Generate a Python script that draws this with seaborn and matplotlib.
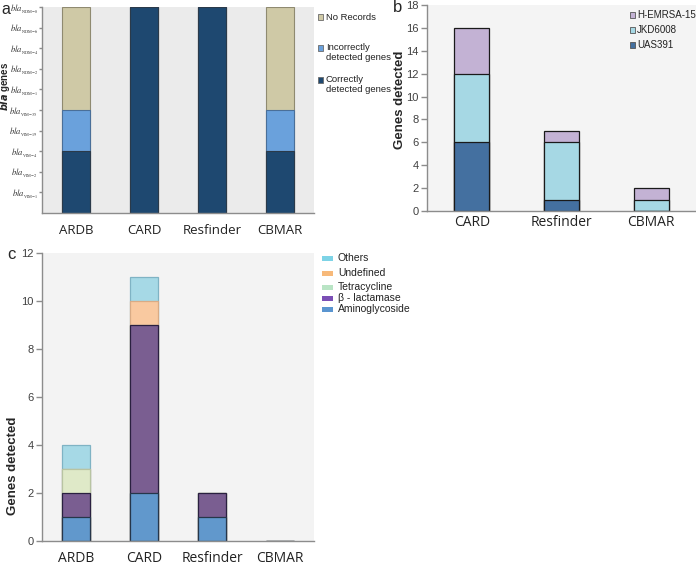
import matplotlib
matplotlib.use("Agg")
import matplotlib.pyplot as plt
import matplotlib.patches as mpatches
import seaborn as sns
import pandas as pd
import numpy as np

# ---------------- data ----------------
# Panel a
a_tools = ["ARDB", "CARD", "Resfinder", "CBMAR"]
a_correct = [3, 10, 10, 3]
a_incorrect = [2, 0, 0, 2]
a_norecords = [5, 0, 0, 5]
a_genes = ["VIM-1", "VIM-2", "VIM-4", "VIM-19", "VIM-35",
           "NDM-1", "NDM-2", "NDM-4", "NDM-6", "NDM-8"]
a_legend = ["No Records", "Incorrectly\ndetected genes", "Correctly\ndetected genes"]

# Panel b
b_tools = ["CARD", "Resfinder", "CBMAR"]
b_uas391 = [6, 1, 0]
b_jkd6008 = [6, 5, 1]
b_hemrsa = [4, 1, 1]
b_legend = ["H-EMRSA-15", "JKD6008", "UAS391"]

# Panel c
c_tools = ["ARDB", "CARD", "Resfinder", "CBMAR"]
c_amino = [1, 2, 1, 0]
c_blact = [1, 7, 1, 0]
c_tetra = [1, 0, 0, 0]
c_undef = [0, 1, 0, 0]
c_others = [1, 1, 0, 0]
c_legend = ["Others", "Undefined", "Tetracycline", "\u03b2 - lactamase", "Aminoglycoside"]

sns.set_style("white")
plt.rcParams["font.family"] = ["Liberation Sans", "DejaVu Sans"]

fig = plt.figure(figsize=(6.96, 5.65), dpi=100)

W, H = 696.0, 565.0
def axrect(x0, x1, ytop, ybot):
    return [x0 / W, 1 - ybot / H, (x1 - x0) / W, (ybot - ytop) / H]

ax_a = fig.add_axes(axrect(42, 314, 7, 213))
ax_b = fig.add_axes(axrect(427, 696, 5, 211))
ax_c = fig.add_axes(axrect(42, 314, 253, 541))

spine_col = "#8c8c8c"
tick_col = "#404040"


def stacked(ax, cats, layers, colors, edges, lw, width):
    """layers bottom->top; draw cumulative sums back to front."""
    cum = np.cumsum(np.array(layers, dtype=float), axis=0)
    for i in range(len(layers) - 1, -1, -1):
        df = pd.DataFrame({"tool": cats, "val": cum[i]})
        sns.barplot(data=df, x="tool", y="val", order=cats, color=colors[i],
                    edgecolor=edges[i], linewidth=lw, width=width,
                    errorbar=None, saturation=1, ax=ax)


def style_axis(ax, n, facecolor, xpad, xsize):
    ax.set_facecolor(facecolor)
    ax.set_xlim(-0.5, n - 0.5)
    for s in ["top", "right"]:
        ax.spines[s].set_visible(False)
    for s in ["left", "bottom"]:
        ax.spines[s].set_color(spine_col)
        ax.spines[s].set_linewidth(1.0)
    ax.set_xlabel("")
    ax.set_xticks(np.arange(n))
    ax.set_xticks(np.arange(n + 1) - 0.5, minor=True)
    ax.tick_params(axis="x", which="major", length=0, pad=xpad,
                   labelsize=xsize, labelcolor="#222222")
    ax.tick_params(axis="x", which="minor", length=4, direction="out",
                   color=spine_col, width=1)
    for lab in ax.get_xticklabels():
        lab.set_family(["Open Sans", "DejaVu Sans"])
    ax.tick_params(axis="y", length=4, direction="out", color=spine_col,
                   width=1, labelsize=8, labelcolor=tick_col, left=True, pad=2)
    ax.grid(False)


def manual_legend(entries, px, py_list, size, fontsize, text_dx, edge):
    """entries: list of (color, label); px, py in pixel coords from top-left."""
    pw, ph = size
    for (col, lab), py in zip(entries, py_list):
        fig.add_artist(mpatches.Rectangle(
            ((px) / W, 1 - (py + ph / 2) / H), pw / W, ph / H,
            transform=fig.transFigure, facecolor=col,
            edgecolor=edge if edge else "none", lw=0.6))
        fig.text((px + pw + text_dx) / W, 1 - py / H, lab, fontsize=fontsize,
                 va="center", ha="left", color="#222222")


# ---------------- panel a ----------------
a_cols = ["#1e4870", "#6aa1dc", "#cfc9a6"]
stacked(ax_a, a_tools, [a_correct, a_incorrect, a_norecords], a_cols,
        ["#2b3a4a", "#4a6f99", "#8f8a70"], 0.8, 0.4)
style_axis(ax_a, len(a_tools), "#ebebeb", 8, 9.5)
ax_a.set_ylim(0, 10)
ax_a.set_yticks(np.arange(1, 11))
ax_a.set_yticklabels([r"$bla_{{}_{\mathrm{%s}\!-\!%s}}$" % tuple(g.split("-"))
                      for g in a_genes])
for lab in ax_a.get_yticklabels():
    lab.set_math_fontfamily("stix")
    lab.set_fontsize(6.2)
    lab.set_color("#333333")
ax_a.tick_params(axis="y", length=2, pad=1)
ax_a.set_ylabel(r"$\mathbfit{bla}$ genes", fontsize=7, fontweight="bold",
                math_fontfamily="dejavusans")
ax_a.yaxis.set_label_coords((12.5 - 42) / 272, 1 - (86 - 7) / 206)

# legend a: first line of each label aligned with its patch
pa = 318
manual_legend([(a_cols[2], "No Records")], pa, [17], (5, 5), 6.8, 3, "#6b6b6b")
for col, py, lab in [(a_cols[1], 48, a_legend[1]), (a_cols[0], 80, a_legend[2])]:
    fig.add_artist(mpatches.Rectangle((pa / W, 1 - (py + 2.5) / H), 5 / W, 5 / H,
                                      transform=fig.transFigure, facecolor=col,
                                      edgecolor="#6b6b6b", lw=0.6))
    fig.text((pa + 8) / W, 1 - (py - 5) / H, lab, fontsize=6.8, va="top",
             ha="left", color="#222222", linespacing=1.1)

# ---------------- panel b ----------------
b_cols = ["#4470a0", "#a6d8e4", "#c3b2d4"]
stacked(ax_b, b_tools, [b_uas391, b_jkd6008, b_hemrsa], b_cols,
        ["#1a1a1a", "#1a1a1a", "#1a1a1a"], 0.9, 0.39)
style_axis(ax_b, len(b_tools), "#f4f4f4", 3, 10)
ax_b.set_ylim(0, 18)
ax_b.set_yticks(np.arange(0, 19, 2))
ax_b.set_ylabel("Genes detected", fontsize=9.5, fontweight="bold")
ax_b.yaxis.set_label_coords((406 - 427) / 269, 1 - (100 - 5) / 206)
manual_legend(list(zip([b_cols[2], b_cols[1], b_cols[0]], b_legend)),
              630, [15, 30, 45], (5, 5), 7, 2, "#555555")

# ---------------- panel c ----------------
c_cols = ["#6198cc", "#7a5e91", "#dfe9c8", "#f9c9a0", "#a6d9e6"]
stacked(ax_c, c_tools, [c_amino, c_blact, c_tetra, c_undef, c_others], c_cols,
        ["#26364a", "#2a2040", "#b8c4a2", "#d9ab85", "#7fb3c4"], 0.9, 0.4)
style_axis(ax_c, len(c_tools), "#f3f3f3", 7, 10)
ax_c.set_ylim(0, 12)
ax_c.set_yticks(np.arange(0, 13, 2))
ax_c.set_ylabel("Genes detected", fontsize=9.5, fontweight="bold")
ax_c.yaxis.set_label_coords((19 - 42) / 272, 1 - (466 - 253) / 288)
c_leg_cols = ["#7dd3e6", "#f7b97a", "#b9e4c5", "#7b4fb5", "#5a95d0"]
manual_legend(list(zip(c_leg_cols, c_legend)), 322, [258, 273, 287, 298, 309],
              (11, 5), 7.5, 5, None)

# panel letters
fig.text(1 / W, 1 - 9 / H, "a", fontsize=11.5, va="center", ha="left")
fig.text(393 / W, 1 - 7 / H, "b", fontsize=12, va="center", ha="left")
fig.text(7 / W, 1 - 254 / H, "c", fontsize=12, va="center", ha="left")

fig.savefig("out.png", dpi=100)
